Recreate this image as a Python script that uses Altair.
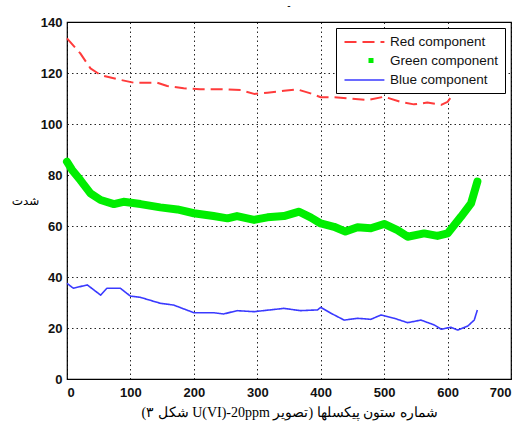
import altair as alt
import pandas as pd

# ---- data ----
red_x = [0, 21, 37, 53, 79, 105, 142, 158, 184, 210, 253, 274, 295, 316, 342, 363, 384, 400, 421, 447, 474, 500, 526, 547, 568, 590, 600, 610, 621, 635, 647]
red_y = [133.6, 127.7, 121.8, 119.2, 117.6, 116.2, 116.2, 114.9, 114.0, 113.6, 113.6, 113.3, 111.8, 112.3, 113.0, 113.6, 112.0, 110.5, 110.5, 110.0, 109.4, 110.7, 108.7, 107.7, 108.4, 107.5, 108.7, 112.0, 114.6, 119.0, 123.0]

green_x = [0, 8, 21, 37, 53, 74, 89, 116, 147, 174, 200, 231, 253, 268, 295, 316, 342, 366, 384, 400, 421, 439, 458, 479, 500, 521, 537, 563, 584, 600, 621, 637, 647]
green_y = [85.2, 82.0, 78.0, 72.8, 70.2, 68.6, 69.5, 68.6, 67.3, 66.5, 65.0, 63.9, 63.0, 63.9, 62.4, 63.4, 63.9, 65.6, 63.4, 61.0, 59.7, 57.8, 59.5, 59.1, 60.8, 58.4, 55.8, 57.1, 56.1, 57.1, 63.6, 68.9, 77.4]

blue_x = [0, 10, 32, 53, 63, 84, 100, 116, 147, 168, 200, 231, 247, 268, 295, 342, 368, 395, 400, 416, 437, 458, 479, 495, 516, 537, 558, 579, 590, 605, 616, 632, 642, 647]
blue_y = [37.5, 35.6, 36.9, 32.9, 35.6, 35.6, 32.5, 32.0, 29.7, 29.0, 26.0, 26.0, 25.5, 26.8, 26.4, 27.7, 26.8, 27.1, 28.1, 25.8, 23.1, 23.8, 23.4, 25.1, 23.8, 22.1, 23.1, 21.2, 19.5, 20.3, 19.2, 20.8, 23.1, 27.1]

series_names = ["Red component", "Green component", "Blue component"]
series_colors = ["#ff3b3b", "#00ee00", "#3a3aff"]
# legend-only styling for the green marker entry (green drawn in its own layer)
series_dash = [[12, 6], [0.001, 24, 5, 100], [1, 0]]
series_width = [2, 5, 1.6]
green_line_width = 8

x_ticks = [0, 100, 200, 300, 400, 500, 600, 700]
y_ticks = [0, 20, 40, 60, 80, 100, 120, 140]

x_title = "\u202bشماره ستون پیکسلها (تصویر U(VI)-20ppm شکل ۳)\u202c"
y_title = "شدت"

rows = []
for name, xs, ys in zip(series_names, [red_x, green_x, blue_x], [red_y, green_y, blue_y]):
    for i, (a, b) in enumerate(zip(xs, ys)):
        rows.append({"series": name, "x": a, "y": b, "order": i})
df = pd.DataFrame(rows)

legend = alt.Legend(
    title=None, orient="top-right", offset=6,
    fillColor="white", strokeColor="black", cornerRadius=0,
    padding=6, rowPadding=1,
    symbolType="M-1,0H4.7", symbolSize=196,
    labelFont="Liberation Sans", labelFontSize=13.5,
    labelColor="#111", labelOffset=29,
)

x_enc = alt.X("x:Q", scale=alt.Scale(domain=[0, 700], nice=False),
              axis=alt.Axis(values=x_ticks, title=x_title, format="d", labelPadding=7,
                            titleFont="Liberation Serif", titleFontSize=14,
                            titleFontWeight="normal", titleY=33, titleBaseline="middle"))
y_enc = alt.Y("y:Q", scale=alt.Scale(domain=[0, 140], nice=False),
              axis=alt.Axis(values=y_ticks, title=y_title, format="d", labelPadding=5,
                            titleAngle=0, titleAlign="center", titleBaseline="middle",
                            titleX=-42, titleY=178, titleFont="DejaVu Sans",
                            titleFontSize=12, titleFontWeight="normal"))

base = alt.Chart(df)

thin = base.transform_filter(
    alt.datum.series != "Green component"
).mark_line(strokeCap="butt", strokeJoin="round").encode(
    x=x_enc, y=y_enc,
    color=alt.Color("series:N", scale=alt.Scale(domain=series_names, range=series_colors), legend=legend),
    strokeDash=alt.StrokeDash("series:N", scale=alt.Scale(domain=series_names, range=series_dash), legend=legend),
    strokeWidth=alt.StrokeWidth("series:N", scale=alt.Scale(type="ordinal", domain=series_names, range=series_width), legend=legend),
    order="order:Q",
)

green = base.transform_filter(
    alt.datum.series == "Green component"
).mark_line(strokeCap="round", strokeJoin="round", strokeWidth=green_line_width,
            color=series_colors[1]).encode(
    x=x_enc, y=y_enc, order="order:Q",
)

chart = alt.layer(thin, green).properties(
    width=444, height=357,
    title=alt.TitleParams("-", fontSize=10, fontWeight="normal", offset=5),
    padding={"left": 67, "top": 22, "right": 12, "bottom": 53},
    autosize=alt.AutoSizeParams(type="none"),
).configure_view(
    stroke="black", strokeWidth=1.2
).configure_axis(
    grid=True, gridColor="black", gridDash=[1.5, 3], gridWidth=1, gridOpacity=0.85,
    domain=False, ticks=False,
    labelFont="Liberation Sans", labelFontSize=13, labelFontWeight="bold",
    labelColor="#111",
).configure_legend(
    strokeWidth=1
).configure_title(
    font="Liberation Sans", color="black", anchor="middle"
)

chart.save("out.html", embed_options={"renderer": "svg", "actions": False})
